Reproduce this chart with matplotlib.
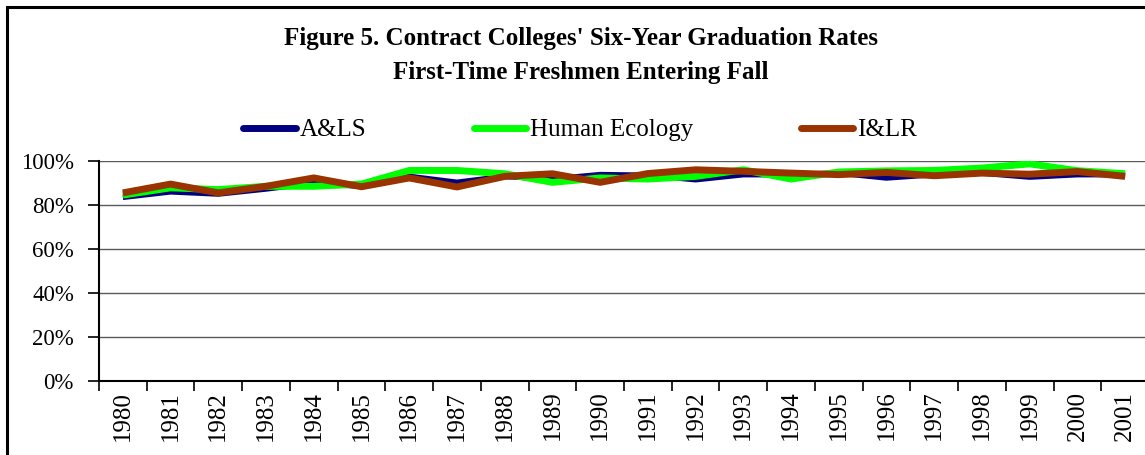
import numpy as np
import matplotlib.pyplot as plt
import matplotlib.ticker as mtick
from matplotlib.patches import Rectangle

plt.rcParams['font.family'] = ['Liberation Serif', 'DejaVu Serif']

# Data
years = [str(y) for y in range(1980, 2002)]
als = [83.5, 86.0, 85.0, 87.3, 90.0, 88.5, 93.0, 90.3, 93.0, 91.8, 93.8,
       93.5, 91.5, 93.8, 93.8, 94.5, 92.3, 93.8, 94.5, 92.7, 93.8, 93.8]
human_ecology = [84.5, 87.8, 87.0, 88.5, 88.5, 89.5, 95.7, 95.7, 94.2, 90.3, 92.3,
                 91.8, 93.0, 96.0, 91.8, 95.0, 95.5, 95.7, 96.8, 98.7, 95.6, 94.2]
ilr = [85.5, 89.5, 85.5, 88.5, 92.3, 88.3, 92.3, 88.2, 93.0, 94.2, 90.3,
       94.3, 96.0, 95.3, 94.5, 93.8, 94.8, 93.3, 94.5, 94.0, 95.2, 93.0]

fig = plt.figure(figsize=(11.45, 4.55), dpi=100)
W, H = 1145, 455

# outer chart frame (right and bottom edges are cut off in the original)
fig.patches.append(Rectangle((6.5 / W, -0.1), 1.2, 1 - 7 / H + 0.1, transform=fig.transFigure,
                             fill=False, edgecolor='black', linewidth=2.2))

ax = fig.add_axes([99 / W, 1 - 381 / H, 1050 / W, 220 / H])
x = np.arange(len(years))
vals = [np.array(v) / 100 for v in (als, human_ecology, ilr)]
ax.plot(x, vals[0], color='#000080', lw=4, label='A&LS', zorder=3, solid_capstyle='butt')
ax.plot(x, vals[1], color='#00FF00', lw=5, label='Human Ecology', zorder=4, solid_capstyle='butt')
ax.plot(x, vals[2], color='#993300', lw=5, label='I&LR', zorder=5, solid_capstyle='butt')

ax.set_xlim(-0.5, len(years) - 0.5)
ax.set_ylim(0, 1)
ax.yaxis.set_major_locator(mtick.MultipleLocator(0.2))
ax.yaxis.set_major_formatter(mtick.PercentFormatter(1.0, decimals=0))
ax.grid(axis='y', color='#5a5a5a', lw=1)
ax.set_axisbelow(True)

ax.set_xticks(x)
ax.set_xticklabels(years, rotation=90)
ax.set_xticks(np.arange(len(years) + 1) - 0.5, minor=True)
ax.tick_params(axis='x', which='major', length=0, labelsize=18, pad=7)
ax.tick_params(axis='x', which='minor', length=7, width=1.2)
ax.tick_params(axis='y', length=8, width=1.2, labelsize=16.5, pad=10)

for s in ('top', 'right'):
    ax.spines[s].set_visible(False)
ax.spines['left'].set_linewidth(1.5)
ax.spines['bottom'].set_linewidth(1.5)

fig.text(581 / W, 1 - 39 / H, "Figure 5. Contract Colleges' Six-Year Graduation Rates",
         ha='center', va='center', fontsize=18, fontweight='bold')
fig.text(581 / W, 1 - 72 / H, "First-Time Freshmen Entering Fall",
         ha='center', va='center', fontsize=18, fontweight='bold')

leg = fig.legend(loc='center', bbox_to_anchor=(580 / W, 1 - 130 / H), ncol=3, frameon=False,
                 fontsize=18, handlelength=2.1, handletextpad=0.15, columnspacing=4.3)
for h in leg.legend_handles:
    h.set_linewidth(5)
    h.set_solid_capstyle('round')

fig.savefig('out.png', dpi=100)
